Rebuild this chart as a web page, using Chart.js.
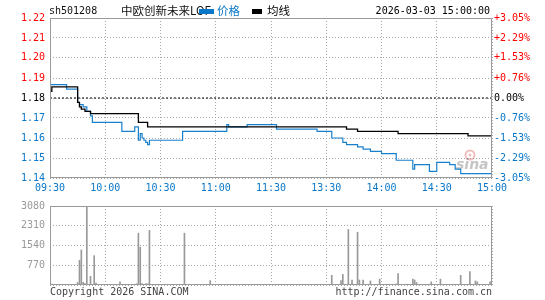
<!DOCTYPE html>
<html>
<head>
<meta charset="utf-8">
<script src="https://cdn.jsdelivr.net/npm/chart.js@4.4.1/dist/chart.umd.min.js"></script>
<style>
  body { margin: 0; background: #fff; }
  #wrap { position: relative; width: 545px; height: 300px; }
  canvas { position: absolute; left: 0; }
</style>
</head>
<body>
<div id="wrap">
  <canvas id="priceChart" width="545" height="195" style="top:0"></canvas>
  <canvas id="volChart" width="545" height="105" style="top:195px"></canvas>
</div>
<script>
const symbol = "sh501208";
const fundName = "中欧创新未来LOF";
const stamp = "2026-03-03 15:00:00";
const seriesNames = ["价格", "均线"];
const prevClose = 1.18;

// minutes since 09:30 (trading minutes, 0..240)
const timeLabels = ["09:30", "10:00", "10:30", "11:00", "11:30", "13:30", "14:00", "14:30", "15:00"];
const pctTicks = [-3.05, -2.29, -1.53, -0.76, 0, 0.76, 1.53, 2.29, 3.05];
const priceLabels = ["1.14", "1.15", "1.16", "1.17", "1.18", "1.19", "1.20", "1.21", "1.22"];
const pctLabels = ["-3.05%", "-2.29%", "-1.53%", "-0.76%", "0.00%", "+0.76%", "+1.53%", "+2.29%", "+3.05%"];

const priceMin = [0, 9, 15, 16, 18, 20, 22, 23, 39, 46, 48, 49, 50, 51, 52, 53, 54, 72, 96, 97, 107, 123, 145, 153, 159, 161, 167, 170, 174, 180, 188, 197, 198, 206, 210, 217, 220, 223, 240];
const priceVal = [1.186, 1.184, 1.178, 1.177, 1.176, 1.174, 1.172, 1.169, 1.165, 1.167, 1.161, 1.164, 1.162, 1.161, 1.160, 1.159, 1.161, 1.165, 1.168, 1.167, 1.168, 1.166, 1.165, 1.162, 1.160, 1.159, 1.158, 1.157, 1.156, 1.155, 1.152, 1.148, 1.150, 1.147, 1.151, 1.150, 1.148, 1.146, 1.145];

const avgMin = [0, 1, 15, 16, 17, 19, 22, 48, 53, 161, 167, 189, 227, 240];
const avgVal = [1.183, 1.185, 1.178, 1.176, 1.175, 1.174, 1.173, 1.169, 1.167, 1.166, 1.165, 1.164, 1.163, 1.163];

const volMin = [1, 15, 16, 17, 18, 19, 20, 22, 24, 25, 31, 38, 40, 47, 48, 49, 50, 52, 53, 54, 73, 87, 96, 98, 108, 123, 146, 153, 158, 159, 160, 162, 164, 167, 168, 170, 174, 176, 179, 188, 189, 193, 194, 197, 198, 199, 200, 206, 207, 212, 219, 223, 227, 228, 231, 232, 234, 239];
const volVal = [36, 97, 962, 1363, 100, 60, 3080, 341, 1144, 73, 20, 122, 20, 50, 2021, 1473, 60, 50, 50, 2130, 2021, 170, 20, 20, 20, 20, 20, 377, 170, 414, 30, 2167, 195, 2057, 195, 195, 158, 30, 231, 40, 450, 30, 30, 231, 195, 97, 30, 30, 122, 231, 30, 377, 30, 523, 158, 122, 30, 122];
const volTicks = [0, 770, 1540, 2310, 3080];
const volLabels = ["", "770", "1540", "2310", "3080"];

const mono = "'DejaVu Sans Mono', monospace";
const RED = "#ff0000", BLUE = "#0a78c8", GRID = "#a8a8a8", FRAME = "#9a9a9a";

function tickColor(ctx) {
    return ctx.index < 4 ? BLUE : (ctx.index > 4 ? RED : "#000");
}
function priceTicks(scale) {
    scale.ticks = pctTicks.map(p => ({ value: prevClose * (1 + p / 100) }));
}

const frame = {
    id: "frame",
    afterDraw(chart) {
        const a = chart.chartArea, c = chart.ctx;
        c.save();
        c.strokeStyle = FRAME;
        c.lineWidth = 1;
        c.strokeRect(a.left + 0.5, a.top + 0.5, a.right - a.left - 1, a.bottom - a.top - 1);
        c.restore();
    }
};

const header = {
    id: "header",
    beforeDatasetsDraw(chart) {
        // faint sina watermark
        const c = chart.ctx;
        c.save();
        c.strokeStyle = "rgba(225,110,110,0.45)";
        c.fillStyle = "rgba(225,110,110,0.45)";
        c.lineWidth = 2;
        c.beginPath(); c.arc(470, 155, 4.5, 0, Math.PI * 2); c.stroke();
        c.beginPath(); c.arc(470, 155, 1.5, 0, Math.PI * 2); c.fill();
        c.font = "italic bold 14px 'DejaVu Sans'";
        c.fillStyle = "rgba(140,140,140,0.5)";
        c.textBaseline = "middle";
        c.fillText("sina", 456, 165);
        c.restore();
    },
    afterDraw(chart) {
        const c = chart.ctx;
        c.save();
        c.textBaseline = "middle";
        c.fillStyle = "#111";
        c.font = "10px " + mono;
        c.fillText(symbol, 49, 11);
        c.font = "11.5px 'Noto Sans CJK SC'";
        c.fillText(fundName, 121, 11);
        c.fillStyle = BLUE;
        c.fillRect(199, 9, 15, 5);
        c.fillText(seriesNames[0], 217, 11);
        c.fillStyle = "#000";
        c.fillRect(252, 9, 10, 5);
        c.fillText(seriesNames[1], 267, 11);
        c.font = "10px " + mono;
        c.textAlign = "right";
        c.fillText(stamp, 490, 11);
        c.restore();
    }
};

const footer = {
    id: "footer",
    afterDraw(chart) {
        const c = chart.ctx, a = chart.chartArea;
        c.save();
        c.font = "10px " + mono;
        c.fillStyle = "#444";
        c.textBaseline = "middle";
        c.fillText("Copyright 2026 SINA.COM", a.left, 97);
        c.textAlign = "right";
        c.fillText("http://finance.sina.com.cn", a.right, 97);
        c.restore();
    }
};

const font = { family: mono, size: 10 };

new Chart(document.getElementById("priceChart"), {
    type: "line",
    data: {
        datasets: [
            {
                label: seriesNames[1],
                data: avgMin.map((m, i) => ({ x: m, y: avgVal[i] })),
                borderColor: "#000",
                borderWidth: 1.3,
                stepped: "before",
                pointRadius: 0
            },
            {
                label: seriesNames[0],
                data: priceMin.map((m, i) => ({ x: m, y: priceVal[i] })),
                borderColor: "#1b80cc",
                borderWidth: 1.2,
                stepped: "before",
                pointRadius: 0
            },
            {
                label: "prev",
                data: [{ x: 0, y: prevClose }, { x: 240, y: prevClose }],
                borderColor: "#000",
                borderWidth: 1,
                borderDash: [2, 2],
                pointRadius: 0
            }
        ]
    },
    options: {
        responsive: false,
        animation: false,
        events: [],
        layout: { padding: { top: 18 } },
        plugins: { legend: { display: false }, tooltip: { enabled: false } },
        scales: {
            x: {
                type: "linear",
                min: 0,
                max: 240,
                ticks: {
                    stepSize: 30,
                    autoSkip: false,
                    maxRotation: 0,
                    color: BLUE,
                    font: font,
                    padding: 4,
                    callback: (v, i) => timeLabels[i]
                },
                grid: { color: GRID, drawTicks: false },
                border: { display: false, dash: [1, 2] },
                afterFit: s => { s.height = 17; }
            },
            y: {
                position: "left",
                min: prevClose * (1 - 0.0305),
                max: prevClose * (1 + 0.0305),
                afterBuildTicks: priceTicks,
                ticks: {
                    autoSkip: false,
                    color: tickColor,
                    font: font,
                    padding: 5,
                    callback: (v, i) => priceLabels[i]
                },
                grid: { color: GRID, drawTicks: false },
                border: { display: false, dash: [1, 2] },
                afterFit: s => { s.width = 50; }
            },
            y2: {
                position: "right",
                min: prevClose * (1 - 0.0305),
                max: prevClose * (1 + 0.0305),
                afterBuildTicks: priceTicks,
                ticks: {
                    autoSkip: false,
                    color: tickColor,
                    font: font,
                    padding: 2,
                    callback: (v, i) => pctLabels[i]
                },
                grid: { display: false, drawTicks: false },
                border: { display: false },
                afterFit: s => { s.width = 53; }
            }
        }
    },
    plugins: [header, frame]
});

new Chart(document.getElementById("volChart"), {
    type: "bar",
    data: {
        datasets: [{
            label: "volume",
            data: volMin.map((m, i) => ({ x: m, y: volVal[i] })),
            backgroundColor: "#999",
            barThickness: 1
        }]
    },
    options: {
        responsive: false,
        animation: false,
        events: [],
        layout: { padding: { top: 6, right: 53 } },
        plugins: { legend: { display: false }, tooltip: { enabled: false } },
        scales: {
            x: {
                type: "linear",
                min: 0,
                max: 240,
                offset: false,
                ticks: { stepSize: 30, display: false },
                grid: { color: GRID, drawTicks: false, offset: false },
                border: { display: false, dash: [1, 2] },
                afterFit: s => { s.height = 15; }
            },
            y: {
                min: 0,
                max: 3080,
                afterBuildTicks: s => { s.ticks = volTicks.map(v => ({ value: v })); },
                ticks: {
                    autoSkip: false,
                    color: "#999",
                    font: font,
                    padding: 5,
                    callback: (v, i) => volLabels[i]
                },
                grid: { color: GRID, drawTicks: false },
                border: { display: false, dash: [1, 2] },
                afterFit: s => { s.width = 50; }
            }
        }
    },
    plugins: [footer, frame]
});
</script>
</body>
</html>
